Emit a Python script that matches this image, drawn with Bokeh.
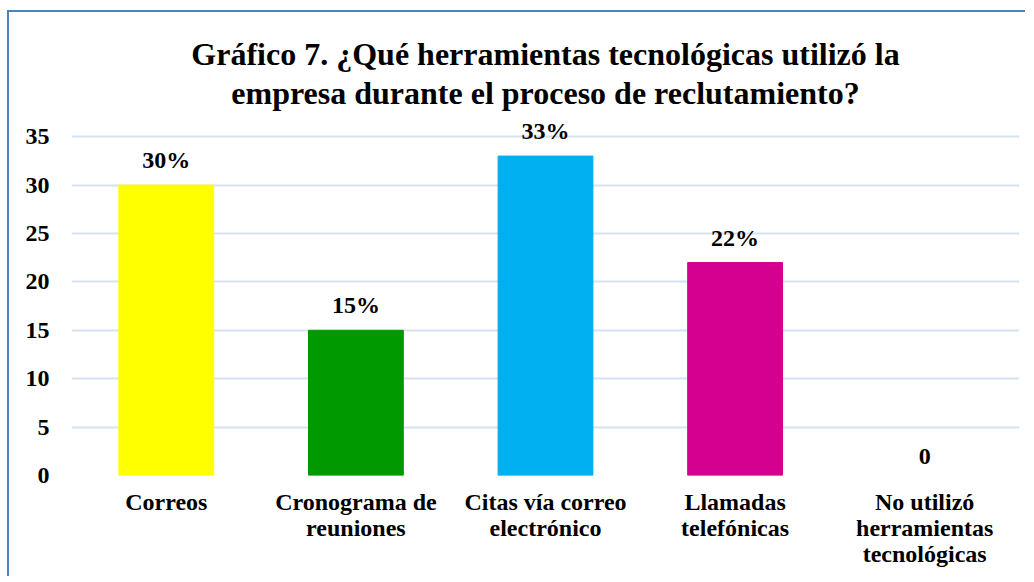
from bokeh.plotting import figure
from bokeh.models import ColumnDataSource, FixedTicker, LabelSet, Range1d, Title
from bokeh.embed import file_html
from bokeh.resources import INLINE

categories = ["Correos", "Cronograma de\nreuniones", "Citas vía correo\nelectrónico",
              "Llamadas\ntelefónicas", "No utilizó\nherramientas\ntecnológicas"]
values = [30, 15, 33, 22, 0]
labels = ["30%", "15%", "33%", "22%", "0"]
colors = ["#FFFF00", "#009900", "#00B0F0", "#D4008F", "#FFFFFF"]
y_ticks = [0, 5, 10, 15, 20, 25, 30, 35]
title_lines = ["Gráfico 7. ¿Qué herramientas tecnológicas utilizó la",
               "empresa durante el proceso de reclutamiento?"]

src = ColumnDataSource(dict(cat=categories, val=values, lab=labels, col=colors))

p = figure(x_range=categories, y_range=Range1d(0, 37.5), width=1018, height=566,
           output_backend="svg", toolbar_location=None, title=None,
           min_border_left=62, min_border_right=8, min_border_top=100, min_border_bottom=103)

for i, line in enumerate(reversed(title_lines)):
    t = Title(text=line, align="center", text_font="Liberation Serif", text_font_size="32px",
              text_font_style="bold", text_color="black", standoff=3 if i == 0 else 0, offset=0)
    p.add_layout(t, "above")

p.vbar(x="cat", top="val", width=0.5, color="col", source=src)

lbl = LabelSet(x="cat", y="val", text="lab", source=src, text_align="center",
               text_baseline="bottom", y_offset=12, text_font="Liberation Serif",
               text_font_size="24px", text_font_style="bold", text_color="black")
p.add_layout(lbl)

p.yaxis.ticker = FixedTicker(ticks=y_ticks)
p.yaxis.axis_line_color = None
p.yaxis.major_tick_line_color = None
p.yaxis.minor_tick_line_color = None
p.yaxis.major_label_text_font = "Liberation Serif"
p.yaxis.major_label_text_font_size = "24px"
p.yaxis.major_label_text_font_style = "bold"
p.yaxis.major_label_text_color = "black"
p.yaxis.major_label_standoff = 16

p.xaxis.axis_line_color = None
p.xaxis.major_tick_line_color = None
p.xaxis.major_label_text_font = "Liberation Serif"
p.xaxis.major_label_text_font_size = "24px"
p.xaxis.major_label_text_font_style = "bold"
p.xaxis.major_label_text_color = "black"
p.xaxis.major_label_text_line_height = 1.0
p.xaxis.major_label_standoff = 7

p.xgrid.grid_line_color = None
p.ygrid.grid_line_color = "#D6E2F2"
p.ygrid.grid_line_width = 2
p.outline_line_color = None
p.x_range.range_padding = 0

p.styles = {"border-left": "2px solid #4F81BD", "border-top": "2px solid #4F81BD",
            "margin-left": "7px", "margin-top": "10px"}

open("out.html", "w").write(file_html(p, INLINE))
